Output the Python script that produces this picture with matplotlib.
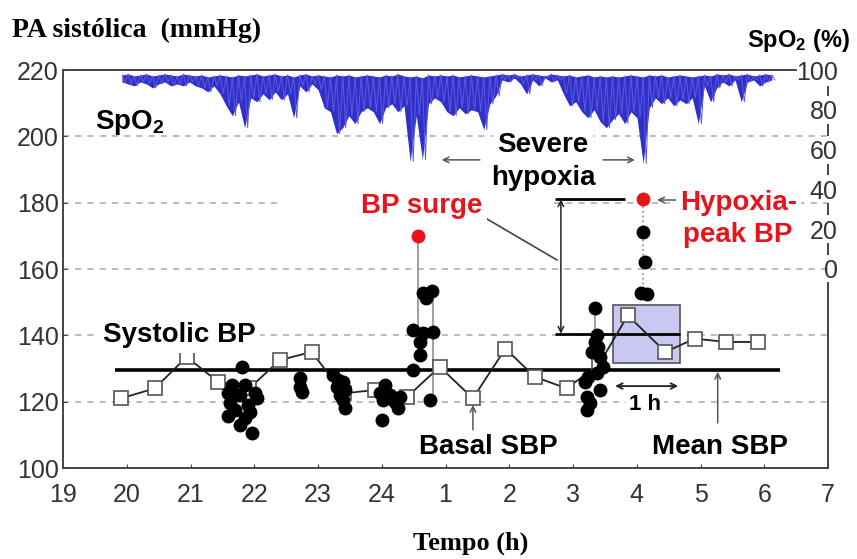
import matplotlib
matplotlib.use("Agg")
import matplotlib.pyplot as plt
import numpy as np
from matplotlib.patches import Rectangle

plt.rcParams['font.family'] = ['Liberation Sans', 'DejaVu Sans']
plt.rcParams['mathtext.fontset'] = 'custom'
plt.rcParams['mathtext.rm'] = 'Liberation Sans'
plt.rcParams['mathtext.bf'] = 'Liberation Sans:bold'

# x is hours after 19:00
hour_labels = ['19', '20', '21', '22', '23', '24', '1', '2', '3', '4', '5', '6', '7']

# 30 min mean SBP (open squares)
mean_t = [0.91, 1.44, 1.94, 2.43, 2.92, 3.40, 3.90, 4.40, 4.89, 5.40, 5.91,
          6.43, 6.94, 7.40, 7.90, 8.40, 8.86, 9.45, 9.91, 10.40, 10.90]
mean_bp = [121, 124, 133.5, 126, 124, 132.5, 135, 122.5, 123.5, 121.5, 130.5,
           121, 136, 127.5, 124, 131, 146, 135, 139, 138, 138]

# single SBP readings (black dots)
dots_t = [2.81, 2.65, 2.86, 2.59, 2.78, 3.01, 2.62, 2.90, 2.70, 2.93, 2.59, 2.86, 2.78, 3.04, 2.96,
          3.72, 3.72, 3.75,
          4.24, 4.31, 4.39, 4.30, 4.42, 4.35, 4.39, 4.42,
          5.05, 4.97, 5.13, 5.02, 5.21, 5.25, 5.00, 5.29,
          5.49, 5.65, 5.79, 5.69, 5.49, 5.65, 5.80, 5.60, 5.60, 5.76,
          8.35, 8.38, 8.35, 8.39, 8.30, 8.42, 8.47, 8.38, 8.24, 8.19, 8.42, 8.22, 8.27, 8.22,
          9.10, 9.13, 9.06, 9.16]
dots_bp = [130.5, 125, 125, 122.6, 122, 122.6, 119.6, 119, 117.5, 116.9, 115.7, 115, 113, 121, 110.6,
           127.1, 124.4, 123,
           128, 126.5, 126, 124.4, 123.5, 122, 120.5, 118,
           125, 122.6, 122, 120.5, 120, 118, 114.5, 121.4,
           129.6, 152.8, 153.4, 151.3, 141.6, 140.7, 141, 138, 134.1, 120.5,
           148.2, 140.1, 138, 136.5, 135, 133.5, 130.5, 128.7, 127.5, 126, 123.5, 121.4, 119.6, 117.5,
           171.2, 162, 152.8, 152.5]

# BP surge peaks (red)
surge_t = [5.57, 9.10]
surge_bp = [170, 181]

# gray connectors inside the surges
conn_t = [5.57, 5.80, 8.35, 9.10]
conn_top = [170, 153.4, 148.2, 181]
conn_bot = [141.6, 120.5, 140.1, 152.5]

mean_sbp = 129.5
hypoxia_sbp = 140.5

# SpO2 trace (%), upper and lower edge per bin from 20:00 to 6:00
spo2_t0, spo2_t1 = 0.925, 11.12
spo2_high = [97.5, 98, 97, 97.5, 98, 97, 97.5, 98, 97.5, 97, 98, 97.5, 97,
             97.5, 96.5, 97, 97.5,
             97, 96.5, 97.5, 97,
             97.5, 98, 97, 97.5, 98,
             97, 97.5, 96.5,
             97.5, 98, 97, 97.5,
             97, 96.5, 97.5,
             97, 97.5, 96.5, 97,
             97.5, 97, 96.5, 97.5, 97, 98, 97,
             96.5, 97, 96,
             97.5, 97, 97.5,
             97, 97.5, 96.5, 97, 97.5, 97,
             96.5, 97, 97.5,
             98, 97.5, 98, 97, 97.5, 98, 97.5, 97, 98, 97.5,
             97, 97.5, 96.5, 97, 97.5, 96.5, 97, 96.5,
             97, 96.5, 97, 97.5, 97,
             96.5, 97.5,
             97, 97.5, 96.5, 97, 97.5, 97, 96.5, 97,
             97.5, 97, 98,
             97.5, 98, 97, 97.5, 98, 97, 97.5, 98, 97.5]
spo2_low = [94, 93, 92, 94, 93, 91, 93, 94, 92, 93, 92, 94, 92,
            91, 89, 92, 88,
            82, 77, 84, 71,
            86, 84, 88, 85, 89,
            85, 88, 76,
            92, 89, 93, 90,
            81, 79, 68,
            71, 77, 73, 79,
            81, 79, 73, 81, 83, 79, 82,
            54, 77, 55,
            83, 86, 84,
            79, 77, 81, 78, 80, 79,
            70, 83, 87,
            95, 94, 96, 93, 88, 95, 92, 96, 94, 95,
            88, 82, 84, 79, 76, 80, 74, 71,
            75, 78, 73, 79, 76,
            53, 81,
            86, 83, 86, 82, 85, 83, 86, 73,
            92, 84, 91,
            94, 92, 95, 84, 94, 95, 92, 94, 95]

RED = '#e8141c'
GRAY = '#555555'

fig = plt.figure(figsize=(8.57, 5.59), dpi=100)
ax = fig.add_axes([63 / 857, 1 - 468 / 559, (828 - 63) / 857, (468 - 70) / 559])
ax.set_xlim(0, 12)
ax.set_ylim(100, 220)

# dashed grid
dash = dict(color='#a8a8a8', lw=1.1, linestyles=(0, (4, 4)), zorder=0.5)
ax.hlines([120, 140, 160, 200], 0, 12, **dash)
ax.hlines([180, 180], [0, 7.7], [3.43, 12], **dash)

# frame
for s in ['left', 'bottom', 'top']:
    ax.spines[s].set_color('#444')
    ax.spines[s].set_linewidth(1.4)
ax.spines['right'].set_visible(False)
ax.spines['top'].set_bounds(0, 11.5)
ax.set_xticks(range(13))
ax.set_xticklabels(hour_labels)
ax.set_yticks(range(100, 221, 20))
ax.tick_params(axis='x', direction='in', length=3, pad=11, labelsize=18, labelcolor='#333', color='#444')
ax.tick_params(axis='y', direction='in', length=3, pad=3, labelsize=18, labelcolor='#333', color='#444')

# hypoxia box and reference lines
box = Rectangle((8.63, 131.7), 1.05, 17.5, fc='#c8c8f0', ec=GRAY, lw=1.2, zorder=1.5)
ax.add_patch(box)
ax.hlines(mean_sbp, 0.82, 11.25, color='black', lw=2.6, zorder=2)
ax.hlines(hypoxia_sbp, 7.72, 9.68, color='black', lw=2, zorder=2)
ax.hlines(surge_bp[1], 7.72, 8.82, color='black', lw=2, zorder=2)

# readings
ax.vlines(conn_t, conn_bot, conn_top, color='#999999', lw=1.3,
          linestyles=['-', '-', '-', ':'], zorder=2.2)
ax.plot(mean_t, mean_bp, '-', color='#222', lw=1.3, zorder=2.5)
ax.plot(mean_t, mean_bp, 's', mfc='white', mec=GRAY, ms=10, mew=1.2, zorder=2.6)
ax.plot(dots_t, dots_bp, 'o', color='black', ms=9, zorder=3)
ax.plot(surge_t, surge_bp, 'o', color=RED, ms=9, zorder=3)

# annotations
bold = dict(fontsize=20, fontweight='bold')
wbox = dict(facecolor='white', edgecolor='none', boxstyle='square,pad=0.15')
arr = dict(arrowstyle='->', color=GRAY, lw=1.1, shrinkA=0, shrinkB=0)

ax.text(0.5, 204.3, r'$\mathbf{SpO_2}$', fontsize=20, va='center', ha='left')
ax.text(0.63, 140, 'Systolic BP', va='center', ha='left', bbox=wbox, zorder=4, **bold)
ax.text(7.53, 197.4, 'Severe', va='center', ha='center', bbox=wbox, zorder=4, **bold)
ax.text(7.53, 187.4, 'hypoxia', va='center', ha='center', zorder=4, **bold)
ax.annotate('', xy=(5.94, 192.9), xytext=(6.54, 192.9), arrowprops=arr)
ax.annotate('', xy=(8.97, 192.9), xytext=(8.47, 192.9), arrowprops=arr)
ax.text(5.63, 179, 'BP surge', color=RED, va='center', ha='center', bbox=wbox, zorder=4, **bold)
ax.plot([6.65, 7.75], [175.1, 162.7], color='#444', lw=1.2)
ax.annotate('', xy=(7.81, hypoxia_sbp), xytext=(7.81, surge_bp[1]),
            arrowprops=dict(arrowstyle='<->', color='#222', lw=1.1, shrinkA=0, shrinkB=0,
                            mutation_scale=10))
ax.text(9.68, 179.9, 'Hypoxia-', color=RED, va='center', ha='left', bbox=wbox, zorder=4, **bold)
ax.text(9.73, 170.3, 'peak BP', color=RED, va='center', ha='left', zorder=4, **bold)
ax.annotate('', xy=(9.32, 180.8), xytext=(9.63, 180.8), arrowprops=arr)
ax.annotate('', xy=(8.66, 124.7), xytext=(9.65, 124.7),
            arrowprops=dict(arrowstyle='<->', color='#222', lw=1.3, shrinkA=0, shrinkB=0,
                            mutation_scale=10))
ax.text(9.13, 119, '1 h', va='center', ha='center', fontsize=16, fontweight='bold',
        bbox=wbox, zorder=4)
ax.text(6.68, 106.3, 'Basal SBP', va='center', ha='center', **bold)
ax.annotate('', xy=(6.43, 119), xytext=(6.43, 111.5), arrowprops=arr)
ax.text(10.3, 106.3, 'Mean SBP', va='center', ha='center', **bold)
ax.annotate('', xy=(10.27, 129), xytext=(10.27, 113.6), arrowprops=arr)

# SpO2 on its own scale: 0 % sits at 160 mmHg, 100 % at 220 mmHg
ax2 = ax.twinx()
ax2.set_ylim(-100, 100)
for s in ['left', 'bottom', 'top']:
    ax2.spines[s].set_visible(False)
ax2.spines['right'].set_color('#444')
ax2.spines['right'].set_linewidth(1.4)
ax2.spines['right'].set_bounds(-100, -7)
ax2.set_yticks(range(0, 101, 20))
ax2.tick_params(axis='y', length=0, pad=7, labelsize=18, labelcolor='#333')
for tk in ax2.yaxis.get_major_ticks():
    tk.label2.set_horizontalalignment('right')
# short pieces of the right axis line show between the labels
ax2.vlines([12] * 5, [7, 27, 47, 67, 87], [13, 33, 53, 73, 92], color='#444', lw=1.4,
           clip_on=False)

spo2_t = np.linspace(spo2_t0, spo2_t1, len(spo2_low))
half = (spo2_t[1] - spo2_t[0]) / 2
ax2.fill_between(spo2_t, spo2_low, spo2_high, color='#3030c8', lw=0)
# thin strands on top of the filled body
xz = np.column_stack([spo2_t, spo2_t + half]).ravel()
yz = np.column_stack([spo2_high, spo2_low]).ravel()
ax2.plot(xz, yz, color='#5a5ae0', lw=0.7)

# outer labels
fig.text(12 / 857, 1 - 30 / 559, 'PA sistólica  (mmHg)', family='Liberation Serif',
         fontweight='bold', fontsize=20, va='center', ha='left')
fig.text(471 / 857, 1 - 543 / 559, 'Tempo (h)', family='Liberation Serif',
         fontweight='bold', fontsize=19, va='center', ha='center')
fig.text(747 / 857, 1 - 40 / 559, r'$\mathbf{SpO_2}$ (%)', fontweight='bold',
         fontsize=17, va='center', ha='left')

fig.savefig('out.png', dpi=100)
